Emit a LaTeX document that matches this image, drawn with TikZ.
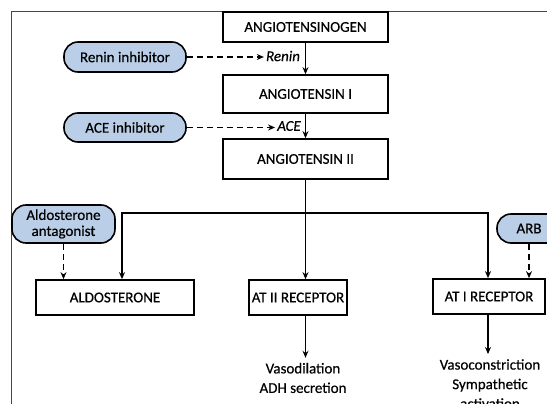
\documentclass[tikz,border=0pt]{standalone}
\usepackage{fontspec}
\setmainfont{Carlito}
\newfontfamily\diagfont{Carlito}[FakeBold=0.45]
\usetikzlibrary{arrows.meta,calc}
\definecolor{pillblue}{RGB}{186,207,231}
\definecolor{framegray}{RGB}{70,70,70}

\begin{document}
\begin{tikzpicture}[x=1pt,y=-1pt,
  box/.style={draw, line width=1.7pt, inner sep=0pt, minimum height=35pt,
    font=\diagfont\fontsize{15}{17}\selectfont},
  pill/.style={draw, line width=1.6pt, fill=pillblue, inner sep=0pt,
    rounded corners=14pt, font=\diagfont\fontsize{15}{16}\selectfont},
  enzyme/.style={inner sep=2pt, font=\diagfont\fontsize{15}{17}\selectfont\itshape},
  effect/.style={align=center, inner sep=5pt, font=\diagfont\fontsize{15}{19.5}\selectfont},
  flow/.style={-{Stealth[length=7pt,width=6pt]}, line width=1.6pt},
  flowboth/.style={{Stealth[length=7pt,width=6pt]}-{Stealth[length=7pt,width=6pt]}, line width=1.6pt},
  inhib/.style={flow, dash pattern=on 6pt off 4pt}]

\useasboundingbox (0,0) rectangle (547,404);
\clip (0,0) rectangle (547,404);

% frame of the figure
\draw[framegray, line width=1pt] (11,404) -- (11,12) -- (547,12);

% main cascade
\node[box, minimum width=165pt, minimum height=30pt] (agt) at (305.5,27) {ANGIOTENSINOGEN};
\node[box, minimum width=165pt, minimum height=38pt] (ang1) at (305.5,94) {ANGIOTENSIN I};
\node[box, minimum width=165pt, minimum height=40pt] (ang2) at (305.5,159) {ANGIOTENSIN II};

\node[enzyme] (renin) at (283,56) {Renin};
\node[enzyme] (ace) at (289,126) {ACE};

% inhibitors
\node[pill, minimum width=122pt, minimum height=30pt] (renininh) at (125,57) {Renin inhibitor};
\node[pill, minimum width=122pt, minimum height=29pt] (aceinh) at (125,127.5) {ACE inhibitor};
\node[pill, minimum width=103pt, minimum height=38pt, align=center] (aldoant) at (63.5,224) {Aldosterone\\antagonist};
\node[pill, minimum width=64pt, minimum height=29pt] (arb) at (529,228.5) {ARB};

% targets
\node[box, minimum width=158pt] (aldo) at (115,297.5) {ALDOSTERONE};
\node[box, minimum width=98pt] (at2) at (298,297.5) {AT II RECEPTOR};
\node[box, minimum width=112pt] (at1) at (489,296.5) {AT I RECEPTOR};

\node[effect] (at2eff) at (303,378) {Vasodilation\\ADH secretion};
\node[effect] (at1eff) at (490,384) {Vasoconstriction\\Sympathetic\\activation};

\coordinate (jl) at (122,213);
\coordinate (jr) at (488,213);

\draw[flow] (agt) -- (ang1);
\draw[flow] (ang1) -- (ang2);
\draw[flow] (ang2.south) -- (ang2.south |- at2.north);
\draw[flowboth] (jl |- aldo.north) -- (jl) -- (jr) -- (jr |- at1.north);

\draw[inhib] (renininh.east) -- (renininh.east -| renin.west);
\draw[inhib] (aceinh.east) -- (aceinh.east -| ace.west);
\draw[inhib] (aldoant.south) -- (aldoant.south |- aldo.north);
\draw[inhib] (arb.south) -- (arb.south |- at1.north);

\draw[flow] (at2.south -| ang2.south) -- (at2eff.north -| ang2.south);
\draw[flow] (at1.south -| jr) -- (at1eff.north -| jr);

\end{tikzpicture}
\end{document}
